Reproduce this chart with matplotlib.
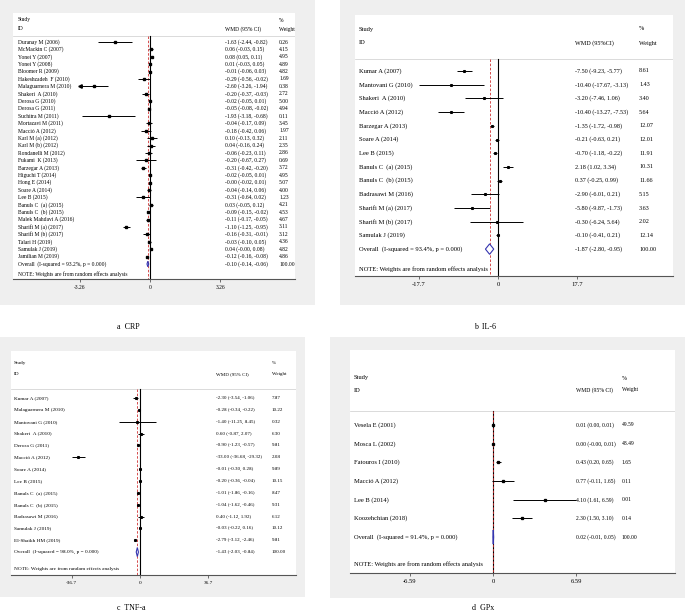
import matplotlib
matplotlib.use("Agg")
import matplotlib.pyplot as plt
from matplotlib.patches import Rectangle, Polygon
from matplotlib.transforms import blended_transform_factory

plt.rcParams["font.family"] = ["Liberation Serif", "DejaVu Serif"]

W, H = 685, 614

# ---------------- data: a CRP
crp_study = ["Duranay M (2006)", "McMackin C (2007)", "Yonei Y (2007)", "Yonei Y (2008)",
             "Bloomer R (2009)", "Hakeshzadeh  F (2010)", "Malaguarnera M (2010)",
             "Shakeri  A (2010)", "Derosa G (2010)", "Derosa G (2011)", "Suchitra M (2011)",
             "Mortazavi M (2011)", "Macció A (2012)", "Karl M (a) (2012)", "Karl M (b) (2012)",
             "Rondanelli M (2012)", "Fukami  K (2013)", "Barzegar A (2013)", "Higuchi T (2014)",
             "Hong E (2014)", "Soare A (2014)", "Lee B (2015)", "Banuls C  (a) (2015)",
             "Banuls C  (b) (2015)", "Malek Mahdavi A (2016)", "Sharifi M (a) (2017)",
             "Sharifi M (b) (2017)", "Talari H (2019)", "Samulak J (2019)", "Jamilian M (2019)"]
crp_wmd = [-1.63, 0.06, 0.08, 0.01, -0.01, -0.29, -2.60, -0.20, -0.02, -0.05, -1.93, -0.04,
           -0.18, 0.10, 0.04, -0.06, -0.20, -0.31, -0.02, -0.0, -0.04, -0.31, 0.03, -0.09,
           -0.11, -1.10, -0.16, -0.03, 0.04, -0.12]
crp_lo = [-2.44, -0.03, 0.05, -0.03, -0.06, -0.56, -3.26, -0.37, -0.05, -0.08, -3.18, -0.17,
          -0.42, -0.13, -0.16, -0.23, -0.67, -0.42, -0.05, -0.02, -0.14, -0.64, -0.05, -0.15,
          -0.17, -1.25, -0.31, -0.10, -0.0, -0.16]
crp_hi = [-0.82, 0.15, 0.11, 0.05, 0.03, -0.02, -1.94, -0.03, 0.01, -0.02, -0.68, 0.09,
          0.06, 0.32, 0.24, 0.11, 0.27, -0.20, 0.01, 0.01, 0.06, 0.02, 0.12, -0.02,
          -0.05, -0.95, -0.01, 0.05, 0.08, -0.08]
crp_weight = [0.26, 4.15, 4.95, 4.89, 4.82, 1.69, 0.38, 2.72, 5.00, 4.94, 0.11, 3.45, 1.97,
              2.11, 2.35, 2.86, 0.69, 3.72, 4.95, 5.07, 4.00, 1.23, 4.21, 4.53, 4.67, 3.11,
              3.12, 4.36, 4.82, 4.86]
crp_overall = ["Overall  (I-squared = 93.2%, p = 0.000)", -0.10, -0.14, -0.06]
crp_ticks = [-3.26, 0, 3.26]

# ---------------- data: b IL-6
il6_study = ["Kumar A (2007)", "Mantovani G (2010)", "Shakeri  A (2010)", "Macció A (2012)",
             "Barzegar A (2013)", "Soare A (2014)", "Lee B (2015)", "Banuls C  (a) (2015)",
             "Banuls C  (b) (2015)", "Badrasawi M (2016)", "Sharifi M (a) (2017)",
             "Sharifi M (b) (2017)", "Samulak J (2019)"]
il6_wmd = [-7.50, -10.40, -3.20, -10.40, -1.35, -0.21, -0.70, 2.18, 0.37, -2.90, -5.80, -0.30, -0.10]
il6_lo = [-9.23, -17.67, -7.46, -13.27, -1.72, -0.63, -1.18, 1.02, -0.25, -6.01, -9.87, -6.24, -0.41]
il6_hi = [-5.77, -3.13, 1.06, -7.53, -0.98, 0.21, -0.22, 3.34, 0.99, 0.21, -1.73, 5.64, 0.21]
il6_weight = [8.61, 1.43, 3.40, 5.64, 12.07, 12.01, 11.91, 10.31, 11.66, 5.15, 3.63, 2.02, 12.14]
il6_overall = ["Overall  (I-squared = 93.4%, p = 0.000)", -1.87, -2.80, -0.95]
il6_ticks = [-17.7, 0, 17.7]

# ---------------- data: c TNF-a
tnf_study = ["Kumar A (2007)", "Malaguarnera M (2010)", "Mantovani G (2010)", "Shakeri  A (2010)",
             "Derosa G (2011)", "Macció A (2012)", "Soare A (2014)", "Lee B (2015)",
             "Banuls C  (a) (2015)", "Banuls C  (b) (2015)", "Badrasawi M (2016)",
             "Samulak J (2019)", "El-Shaikh HM (2019)"]
tnf_wmd = [-2.30, -0.28, -1.40, 0.60, -0.90, -33.00, -0.01, -0.20, -1.01, -1.04, 0.40, -0.03, -2.79]
tnf_lo = [-3.54, -0.34, -11.25, -0.87, -1.23, -36.68, -0.30, -0.36, -1.86, -1.62, -1.12, -0.22, -3.12]
tnf_hi = [-1.06, -0.22, 8.45, 2.07, -0.57, -29.32, 0.28, -0.04, -0.16, -0.46, 1.92, 0.16, -2.46]
tnf_weight = [7.87, 10.22, 0.32, 6.30, 9.81, 2.08, 9.89, 10.15, 8.47, 9.31, 6.12, 10.12, 9.81]
tnf_overall = ["Overall  (I-squared = 98.0%, p = 0.000)", -1.43, -2.03, -0.84]
tnf_ticks = [-36.7, 0, 36.7]

# ---------------- data: d GPx
gpx_study = ["Vesela E (2001)", "Mosca L (2002)", "Fatouros I (2010)", "Macció A (2012)",
             "Lee B (2014)", "Koozehchian (2018)"]
gpx_wmd = [0.01, 0.00, 0.43, 0.77, 4.10, 2.30]
gpx_lo = [0.00, -0.0, 0.20, -0.11, 1.61, 1.50]
gpx_hi = [0.01, 0.01, 0.65, 1.65, 6.59, 3.10]
gpx_weight = [49.59, 48.49, 1.65, 0.11, 0.01, 0.14]
gpx_overall = ["Overall  (I-squared = 91.4%, p = 0.000)", 0.02, -0.01, 0.05]
gpx_ticks = [-6.59, 0, 6.59]


def draw_panel(fig, study, wmd, lo, hi, weight, overall, ticks, lay):
    """Draw one Stata-style forest plot; lay holds pixel geometry."""
    bx0, by0, bx1, by1 = lay["box"]
    fig.add_artist(Rectangle((bx0 / W, 1 - by1 / H), (bx1 - bx0) / W, (by1 - by0) / H,
                             transform=fig.transFigure, facecolor="#efefef",
                             edgecolor="none", zorder=-1))
    x0, y0, x1, y1 = lay["plot"]
    ax = fig.add_axes([x0 / W, 1 - y1 / H, (x1 - x0) / W, (y1 - y0) / H])
    ax.set_facecolor("white")
    zero, ppu = lay["zero"], lay["ppu"]
    ax.set_xlim((x0 - zero) / ppu, (x1 - zero) / ppu)
    r0, dr = lay["r0"], lay["dr"]
    row = lambda py: (py - r0) / dr
    ax.set_ylim(row(y1), row(y0))

    for s in ["top", "left", "right"]:
        ax.spines[s].set_visible(False)
    ax.spines["bottom"].set_color("#555555")
    ax.spines["bottom"].set_linewidth(0.8)
    ax.set_yticks([])
    ax.set_xticks(ticks)
    ax.set_xticklabels([f"{t:g}" for t in ticks])
    ax.tick_params(axis="x", direction="out", length=2, width=0.6, color="#555555",
                   labelsize=lay["fs"], pad=2)

    fs, fsn = lay["fs"], lay["fs_num"]
    tr = blended_transform_factory(ax.transAxes, ax.transData)
    fx = lambda px: (px - x0) / (x1 - x0)

    # header
    ax.text(fx(lay["lab_x"]), row(lay["h1"]), "Study", transform=tr, fontsize=fs, va="center")
    ax.text(fx(lay["lab_x"]), row(lay["h2"]), "ID", transform=tr, fontsize=fs, va="center")
    ax.text(fx(lay["ci_x"]), row(lay["h2"]), lay["ci_head"], transform=tr, fontsize=fsn, va="center")
    ax.text(fx(lay["w_x"]), row(lay["h1"]), "%", transform=tr, fontsize=fsn, va="center")
    ax.text(fx(lay["w_x"]), row(lay["h2"]), "Weight", transform=tr, fontsize=fsn, va="center")
    sep = row(lay["sep"])
    ax.axhline(sep, color="#cccccc", lw=0.5)

    ybot = row(y1)
    ax.plot([0, 0], [sep, ybot], color="black", lw=0.8, zorder=2)
    ax.plot([overall[1], overall[1]], [sep, ybot], color="#d03030", lw=0.6,
            ls=(0, (3, 2)), zorder=2)

    tmax = max(ticks)
    for i, name in enumerate(study):
        ax.text(fx(lay["lab_x"]), i, name, transform=tr, fontsize=fs, va="center")
        ax.text(fx(lay["ci_x"]), i, f"{wmd[i]:.2f} ({lo[i]:.2f}, {hi[i]:.2f})",
                transform=tr, fontsize=fsn, va="center")
        ax.text(fx(lay["w_x"]), i, f"{weight[i]:.2f}", transform=tr, fontsize=fsn, va="center")
        ax.hlines(i, lo[i], hi[i], color="black", lw=0.7, zorder=3)
        ax.plot(wmd[i], i, "s", ms=lay["ms"], color="black", zorder=4)
        if lay["arrows"] and lo[i] <= -tmax:
            ax.plot(lo[i], i, marker="<", ms=2.5, color="black", zorder=4)

    n = len(study)
    ax.text(fx(lay["lab_x"]), n, overall[0], transform=tr, fontsize=fs, va="center")
    ax.text(fx(lay["ci_x"]), n, f"{overall[1]:.2f} ({overall[2]:.2f}, {overall[3]:.2f})",
            transform=tr, fontsize=fsn, va="center")
    ax.text(fx(lay["w_x"]), n, "100.00", transform=tr, fontsize=fsn, va="center")
    hh = 0.38
    ax.add_patch(Polygon([(overall[2], n), (overall[1], n - hh), (overall[3], n),
                          (overall[1], n + hh)], closed=True, facecolor="white",
                         edgecolor="#3535b0", lw=0.8, zorder=5))
    ax.text(fx(lay["lab_x"]), row(lay["note"]), "NOTE: Weights are from random effects analysis",
            transform=tr, fontsize=fs, va="center")

    cx, cy = lay["caption_xy"]
    fig.text(cx / W, 1 - cy / H, lay["caption"], fontsize=5.8, ha="center", va="center")
    return ax


fig = plt.figure(figsize=(6.85, 6.14), dpi=100)

draw_panel(fig, crp_study, crp_wmd, crp_lo, crp_hi, crp_weight, crp_overall, crp_ticks,
           dict(box=(0, 0, 315, 305), plot=(13, 13, 295, 279), zero=150, ppu=21.5,
                h1=20, h2=29, sep=36, r0=42, dr=7.4, note=274,
                lab_x=18, ci_x=225, w_x=279, ci_head="WMD (95% CI)", fs=4.0, fs_num=4.0,
                ms=1.9, arrows=True, caption="a  CRP", caption_xy=(128, 327)))

draw_panel(fig, il6_study, il6_wmd, il6_lo, il6_hi, il6_weight, il6_overall, il6_ticks,
           dict(box=(340, 0, 685, 305), plot=(355, 15, 673, 276), zero=498, ppu=4.49,
                h1=29, h2=43, sep=59, r0=71, dr=13.7, note=269,
                lab_x=359, ci_x=575, w_x=639, ci_head="WMD (95%CI)", fs=4.7, fs_num=4.4,
                ms=1.2, arrows=True, caption="b  IL-6", caption_xy=(485, 327)))

draw_panel(fig, tnf_study, tnf_wmd, tnf_lo, tnf_hi, tnf_weight, tnf_overall, tnf_ticks,
           dict(box=(0, 337, 305, 597), plot=(11, 351, 296, 575), zero=140, ppu=1.866,
                h1=363, h2=374, sep=389, r0=398, dr=11.85, note=569,
                lab_x=14, ci_x=216, w_x=272, ci_head="WMD (95% CI)", fs=3.8, fs_num=3.6,
                ms=1.2, arrows=False, caption="c  TNF-a", caption_xy=(131, 608)))

draw_panel(fig, gpx_study, gpx_wmd, gpx_lo, gpx_hi, gpx_weight, gpx_overall, gpx_ticks,
           dict(box=(330, 337, 685, 598), plot=(350, 350, 675, 573), zero=493, ppu=12.67,
                h1=378, h2=390, sep=411, r0=425, dr=18.67, note=564,
                lab_x=354, ci_x=576, w_x=622, ci_head="WMD (95% CI)", fs=4.7, fs_num=4.1,
                ms=1.4, arrows=False, caption="d  GPx", caption_xy=(483, 608)))

fig.savefig("out.png", dpi=100)
